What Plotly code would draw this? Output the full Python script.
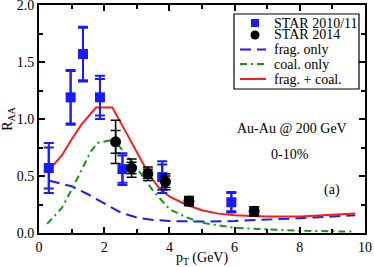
import plotly.graph_objects as go

# STAR 2010/11 (blue squares)
star1_x = [0.3, 0.97, 1.35, 1.87, 2.56, 3.78, 5.9]
star1_y = [0.57, 1.19, 1.57, 1.19, 0.56, 0.49, 0.27]
star1_err_sys = [0.22, 0.24, 0.24, 0.19, 0.14, 0.14, 0.09]
star1_err_stat = [0.18, 0.23, 0.23, 0.16, 0.12, 0.11, 0.08]

# STAR 2014 (black circles)
star2_x = [2.35, 2.84, 3.34, 3.88, 4.6, 6.6]
star2_y = [0.80, 0.57, 0.52, 0.45, 0.28, 0.19]
star2_err_sys = [0.19, 0.08, 0.06, 0.07, 0.04, 0.04]
star2_err_stat = [0.10, 0.05, 0.04, 0.05, 0.03, 0.03]

# model curves
frag_x = [0.3, 0.7, 1.0, 1.5, 2.0, 2.5, 3.0, 3.5, 4.0, 4.5, 5.0, 6.0, 7.0, 8.0, 9.0, 9.7]
frag_y = [0.46, 0.43, 0.41, 0.34, 0.26, 0.18, 0.135, 0.115, 0.105, 0.10, 0.10, 0.105, 0.115, 0.13, 0.145, 0.155]

coal_x = [0.25, 0.7, 1.0, 1.3, 1.6, 1.8, 2.0, 2.3, 2.6, 3.0, 3.5, 4.0, 4.5, 5.0, 6.0, 7.0, 8.0, 9.0, 9.7]
coal_y = [0.08, 0.22, 0.38, 0.55, 0.72, 0.79, 0.80, 0.82, 0.71, 0.57, 0.37, 0.21, 0.14, 0.09, 0.045, 0.03, 0.02, 0.015, 0.012]

sum_x = [0.3, 0.7, 1.0, 1.3, 1.75, 2.25, 2.6, 3.0, 3.4, 3.7, 4.0, 4.5, 5.0, 5.5, 6.0, 6.5, 7.0, 8.0, 9.0, 9.7]
sum_y = [0.55, 0.68, 0.82, 0.95, 1.10, 1.10, 0.92, 0.71, 0.50, 0.39, 0.32, 0.25, 0.20, 0.17, 0.155, 0.15, 0.145, 0.145, 0.16, 0.17]

legend_labels = ["STAR 2010/11", "STAR 2014", "frag. only", "coal. only", "frag. + coal."]

BLUE = "#1a1aff"
GREEN = "#119911"
RED = "#ff1a1a"
FONT = "Liberation Serif"
FS = 14
FRAG_DASH = "11px,6px"
COAL_DASH = "7px,4px,2px,4px"

W, H = 374, 267
ML, MR, MT, MB = 39, 9, 5, 34
PW, PH = W - ML - MR, H - MT - MB

fig = go.Figure()

fig.add_trace(go.Scatter(x=frag_x, y=frag_y, mode="lines", name=legend_labels[2],
                         line=dict(color=BLUE, width=2, dash=FRAG_DASH)))
fig.add_trace(go.Scatter(x=coal_x, y=coal_y, mode="lines", name=legend_labels[3],
                         line=dict(color=GREEN, width=2, dash=COAL_DASH)))
fig.add_trace(go.Scatter(x=sum_x, y=sum_y, mode="lines", name=legend_labels[4],
                         line=dict(color=RED, width=2)))

fig.add_trace(go.Scatter(x=star1_x, y=star1_y, mode="markers",
                         marker=dict(color=BLUE, size=1, opacity=0),
                         error_y=dict(type="data", array=star1_err_stat, color=BLUE, thickness=2, width=5)))
fig.add_trace(go.Scatter(x=star1_x, y=star1_y, mode="markers", name=legend_labels[0],
                         marker=dict(color=BLUE, size=10, symbol="square"),
                         error_y=dict(type="data", array=star1_err_sys, color=BLUE, thickness=2, width=5)))

fig.add_trace(go.Scatter(x=star2_x, y=star2_y, mode="markers",
                         marker=dict(color="black", size=1, opacity=0),
                         error_y=dict(type="data", array=star2_err_stat, color="black", thickness=1.5, width=5)))
fig.add_trace(go.Scatter(x=star2_x, y=star2_y, mode="markers", name=legend_labels[1],
                         marker=dict(color="black", size=11, symbol="circle"),
                         error_y=dict(type="data", array=star2_err_sys, color="black", thickness=1.5, width=5)))

axis_common = dict(showgrid=False, zeroline=False, showline=True, linecolor="black", linewidth=2,
                   mirror="allticks", ticks="inside", ticklen=6, tickwidth=1.5, tickcolor="black",
                   automargin=False, ticklabeloverflow="allow",
                   tickfont=dict(family=FONT, size=FS, color="black"))

fig.update_xaxes(range=[0, 10], tickvals=[0, 2, 4, 6, 8, 10],
                 minor=dict(ticks="inside", dtick=1, ticklen=4, tickcolor="black", tickwidth=1.5),
                 title=dict(text="p<sub>T</sub> (GeV)", font=dict(family=FONT, size=FS, color="black"), standoff=1),
                 **axis_common)
fig.update_yaxes(range=[0, 2.0], tickvals=[0, 0.5, 1.0, 1.5, 2.0], ticktext=["0.0", "0.5", "1.0", "1.5", "2.0"],
                 minor=dict(ticks="inside", dtick=0.25, ticklen=4, tickcolor="black", tickwidth=1.5),
                 title=dict(text="R<sub>AA</sub>", font=dict(family=FONT, size=FS, color="black"), standoff=1),
                 **axis_common)

fig.add_annotation(x=7.76, y=0.92, text="Au-Au @ 200 GeV", showarrow=False, xref="x", yref="y",
                   font=dict(family=FONT, size=FS, color="black"))
fig.add_annotation(x=7.7, y=0.69, text="0-10%", showarrow=False, xref="x", yref="y",
                   font=dict(family=FONT, size=FS, color="black"))
fig.add_annotation(x=8.99, y=0.377, text="(a)", showarrow=False, xref="x", yref="y",
                   font=dict(family=FONT, size=FS, color="black"))

# --- hand-built legend (pixel positions converted to paper fractions) ---
def px(xp):
    return (xp - ML) / PW

def py(yp):
    return (MT + PH - yp) / PH

fig.add_shape(type="rect", xref="paper", yref="paper",
              x0=px(234), x1=px(359), y0=py(89), y1=py(14),
              line=dict(color="black", width=1.2), fillcolor="white", layer="above")
rows = [23, 35, 49.5, 64, 79]
for lab, r in zip(legend_labels, rows):
    fig.add_annotation(x=px(272), y=py(r), xref="paper", yref="paper", text=lab, showarrow=False,
                       xanchor="left", yanchor="middle", font=dict(family=FONT, size=FS, color="black"))
fig.add_shape(type="rect", xref="paper", yref="paper", x0=px(251), x1=px(259), y0=py(rows[0]) - 4 / PH,
              y1=py(rows[0]) + 4 / PH, line=dict(width=0), fillcolor=BLUE, layer="above")
fig.add_shape(type="circle", xref="paper", yref="paper", x0=px(250.5), x1=px(259.5), y0=py(rows[1]) - 4.5 / PH,
              y1=py(rows[1]) + 4.5 / PH, line=dict(width=0), fillcolor="black", layer="above")
for r, col, dash in [(rows[2], BLUE, FRAG_DASH), (rows[3], GREEN, COAL_DASH), (rows[4], RED, "solid")]:
    fig.add_shape(type="line", xref="paper", yref="paper", x0=px(240), x1=px(266), y0=py(r), y1=py(r),
                  line=dict(color=col, width=2, dash=dash), layer="above")

fig.update_layout(
    width=W, height=H,
    margin=dict(l=ML, r=MR, t=MT, b=MB, autoexpand=False),
    paper_bgcolor="white", plot_bgcolor="white",
    showlegend=False,
)

fig.write_html("out.html", config={"displayModeBar": False},
               post_script="document.body.style.margin='0px';")
